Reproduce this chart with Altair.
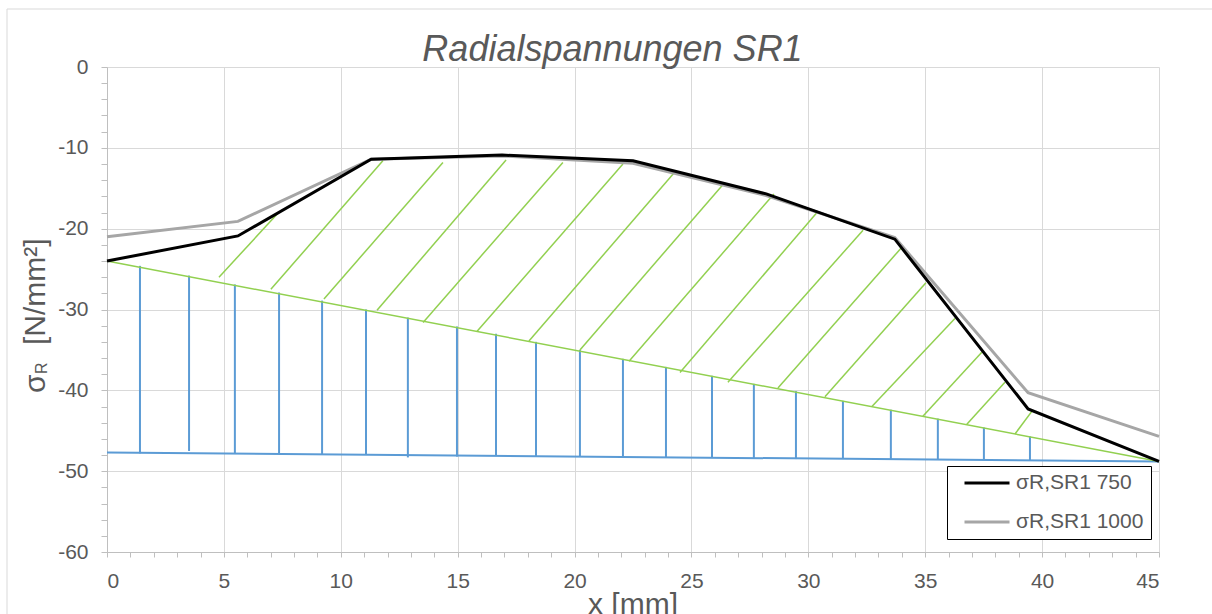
import altair as alt
import pandas as pd

FONT = "Liberation Sans"
TXT = "#595959"

# ---- data ----
series_names = ["σR,SR1 750", "σR,SR1 1000"]
x_pts = [0, 5.6, 11.3, 16.9, 22.5, 28.2, 33.7, 39.4, 45]
y_750 = [-24.0, -20.9, -11.4, -10.9, -11.6, -15.7, -21.3, -42.3, -48.8]
y_1000 = [-21.0, -19.1, -11.4, -11.0, -11.9, -15.9, -21.1, -40.3, -45.7]

green_x = [0, 45]
green_y = [-24.0, -48.8]
blue_x = [0, 45]
blue_y = [-47.7, -48.8]

# green hatch strokes (start on green line, end on black curve)
hatch_x1 = [4.79, 7.01, 9.28, 11.55, 13.52, 15.83, 18.05, 20.23, 22.33, 24.51, 26.56, 28.70, 30.71, 32.72, 34.90, 36.78, 38.84]
hatch_y1 = [-26.0, -27.5, -28.7, -30.1, -31.6, -32.7, -33.9, -35.0, -36.4, -37.8, -39.0, -39.7, -40.8, -42.0, -43.2, -44.2, -45.4]
hatch_x2 = [7.31, 11.80, 14.37, 17.07, 19.50, 22.07, 24.29, 26.39, 28.53, 30.37, 32.34, 34.00, 35.03, 36.27, 37.42, 38.41, 39.56]
hatch_y2 = [-18.1, -11.6, -11.8, -11.5, -11.8, -12.0, -13.0, -14.4, -15.7, -18.0, -20.2, -22.3, -26.7, -31.1, -35.3, -39.0, -42.6]

# blue vertical strokes (between blue base line and green line)
vert_x = [1.41, 3.51, 5.47, 7.36, 9.20, 11.08, 12.87, 14.97, 16.64, 18.35, 20.23, 22.07, 23.91, 25.88, 27.67, 29.47, 31.48, 33.53, 35.54, 37.51, 39.48]
vert_top = [-24.6, -25.8, -26.9, -27.9, -28.9, -30.0, -31.0, -32.1, -33.0, -34.0, -35.0, -36.1, -37.1, -38.2, -39.2, -40.1, -41.3, -42.4, -43.5, -44.6, -45.7]
vert_bot = [-47.8, -47.5, -47.8, -47.9, -47.9, -48.0, -48.3, -48.2, -48.1, -48.2, -48.2, -48.2, -48.3, -48.3, -48.4, -48.5, -48.5, -48.5, -48.6, -48.6, -48.7]

title_text = "Radialspannungen SR1"
x_title = "x [mm]"
y_title_main = "σ"
y_title_sub = "R"
y_title_unit = "[N/mm²]"

x_ticks = list(range(0, 46))
y_ticks = list(range(-60, 1, 2))

# ---- scales / axes ----
x_scale = alt.Scale(domain=[0, 45], nice=False, zero=False)
y_scale = alt.Scale(domain=[-60, 0], nice=False, zero=False)

x_axis = alt.Axis(
    title=None, values=x_ticks,
    labelExpr="datum.value % 5 === 0 ? '' + datum.value : ''",
    gridOpacity={"condition": {"test": "datum.value % 5 === 0", "value": 1}, "value": 0},
    labelOverlap=False, labelFont=FONT, labelFontSize=21, labelColor=TXT,
    tickSize=5, labelPadding=13, tickColor="#bfbfbf", domainColor="#bfbfbf",
    gridColor="#d9d9d9",
)
y_axis = alt.Axis(
    title=None, values=y_ticks,
    labelExpr="datum.value % 10 === 0 ? '' + datum.value : ''",
    gridOpacity={"condition": {"test": "datum.value % 10 === 0", "value": 1}, "value": 0},
    labelOverlap=False, labelFont=FONT, labelFontSize=21, labelColor=TXT,
    tickSize=6, labelPadding=13, tickColor="#bfbfbf", domainColor="#bfbfbf",
    gridColor="#d9d9d9",
)

X = lambda f="x": alt.X(f + ":Q", scale=x_scale, axis=x_axis)
Y = lambda f="y": alt.Y(f + ":Q", scale=y_scale, axis=y_axis)

# ---- tables ----
lines_df = pd.DataFrame({
    "x": x_pts * 2,
    "y": y_750 + y_1000,
    "series": [series_names[0]] * len(x_pts) + [series_names[1]] * len(x_pts),
})
green_df = pd.DataFrame({"x": [green_x[0]], "y": [green_y[0]], "x2": [green_x[1]], "y2": [green_y[1]]})
blue_df = pd.DataFrame({"x": [blue_x[0]], "y": [blue_y[0]], "x2": [blue_x[1]], "y2": [blue_y[1]]})
hatch_df = pd.DataFrame({"x": hatch_x1, "y": hatch_y1, "x2": hatch_x2, "y2": hatch_y2})
vert_df = pd.DataFrame({"x": vert_x, "y": vert_top, "y2": vert_bot})

GREEN = "#92d050"
BLUE = "#5b9bd5"

color = alt.Color(
    "series:N",
    scale=alt.Scale(domain=series_names, range=["#000000", "#a6a6a6"]),
    legend=alt.Legend(
        title=None, orient="none", legendX=840, legendY=399,
        strokeColor="black", fillColor="white", padding=7,
        symbolType="stroke", symbolSize=2025, symbolStrokeWidth=3, symbolOffset=9,
        labelFont=FONT, labelFontSize=21, labelColor=TXT, labelOffset=5,
        clipHeight=20, rowPadding=18, labelLimit=400,
    ),
)

frame = alt.Chart(pd.DataFrame({"a": [0]})).mark_rect(
    fillOpacity=0, stroke="#d9d9d9", strokeWidth=1
).encode(x=alt.value(-100), x2=alt.value(1130), y=alt.value(-58), y2=alt.value(600))

verts = alt.Chart(vert_df).mark_rule(color=BLUE, strokeWidth=2).encode(x=X(), y=Y(), y2="y2:Q")
blue_line = alt.Chart(blue_df).mark_rule(color=BLUE, strokeWidth=2).encode(x=X(), y=Y(), x2="x2:Q", y2="y2:Q")
hatch = alt.Chart(hatch_df).mark_rule(color=GREEN, strokeWidth=1.5).encode(x=X(), y=Y(), x2="x2:Q", y2="y2:Q")
green_line = alt.Chart(green_df).mark_rule(color=GREEN, strokeWidth=1.5).encode(x=X(), y=Y(), x2="x2:Q", y2="y2:Q")

gray_layer = alt.Chart(lines_df[lines_df.series == series_names[1]]).mark_line(strokeWidth=3).encode(
    x=X(), y=Y(), color=color, order="x:Q")
black_layer = alt.Chart(lines_df[lines_df.series == series_names[0]]).mark_line(strokeWidth=3).encode(
    x=X(), y=Y(), color=color, order="x:Q")


def text_layer(txt, px, py, size, angle=0, align="left", italic=False):
    return alt.Chart(pd.DataFrame({"t": [txt]})).mark_text(
        align=align, baseline="alphabetic", fontSize=size, angle=angle,
        font=FONT, color=TXT, fontStyle="italic" if italic else "normal",
    ).encode(text="t:N", x=alt.value(px), y=alt.value(py))


title_mark = text_layer(title_text, 505.5, -6, 36, align="center", italic=True)
xt = text_layer(x_title, 526, 547, 30, align="center")
yt1 = text_layer(y_title_main, -62, 326, 30, angle=270)
yt2 = text_layer(y_title_sub, -60, 307, 16, angle=270)
yt3 = text_layer(y_title_unit, -62, 278, 30, angle=270)

chart = alt.layer(
    frame, verts, blue_line, hatch, green_line, gray_layer, black_layer,
    title_mark, xt, yt1, yt2, yt3,
).properties(
    width=1052, height=485,
    autosize=alt.AutoSizeParams(type="none"),
    padding={"left": 107, "top": 67, "right": 53, "bottom": 62},
    background="white",
).configure_view(stroke=None)

chart.save("out.html", embed_options={"renderer": "svg", "actions": False})
